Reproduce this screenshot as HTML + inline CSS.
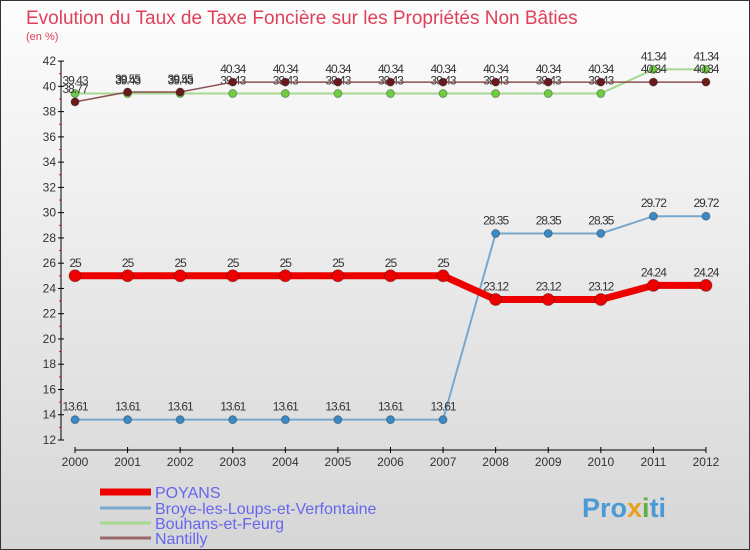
<!DOCTYPE html>
<html><head><meta charset="utf-8"><style>
body{margin:0}
svg{display:block;font-family:"Liberation Sans",sans-serif}
</style></head><body>
<svg id="c" width="750" height="550" xmlns="http://www.w3.org/2000/svg">
<defs><linearGradient id="bg" x1="0" y1="0" x2="0" y2="1"><stop offset="0" stop-color="#fdfdfd"/><stop offset="1" stop-color="#d6d6d6"/></linearGradient></defs>
<rect x="0.5" y="0.5" width="749" height="549" fill="url(#bg)" stroke="#333"/>
<text x="26" y="24" font-size="19" fill="#e0405a">Evolution du Taux de Taxe Foncière sur les Propriétés Non Bâties</text>
<text x="26" y="40" font-size="11" fill="#e0405a">(en %)</text>
<g id="axes"></g><g id="series"></g>
<g>
<line x1="100" y1="492" x2="151" y2="492" stroke="#e00" stroke-width="7"/>
<text x="155" y="498" font-size="16" fill="#6666ee">POYANS</text>
<line x1="100" y1="508" x2="151" y2="508" stroke="#7aa8cc" stroke-width="3"/>
<text x="155" y="514" font-size="16" fill="#6666ee">Broye-les-Loups-et-Verfontaine</text>
<line x1="100" y1="523" x2="151" y2="523" stroke="#a8d890" stroke-width="3"/>
<text x="155" y="529" font-size="16" fill="#6666ee">Bouhans-et-Feurg</text>
<line x1="100" y1="538" x2="151" y2="538" stroke="#9a6a6a" stroke-width="3"/>
<text x="155" y="544" font-size="16" fill="#6666ee">Nantilly</text>
</g>
<g><text x="582" y="517" font-size="27" font-weight="bold" fill="#4a9ad8">Pro<tspan fill="#e8a020">x</tspan><tspan fill="#60b040">i</tspan>ti</text></g>
</svg>
<script>
const years=[2000,2001,2002,2003,2004,2005,2006,2007,2008,2009,2010,2011,2012];
const poyans=[25,25,25,25,25,25,25,25,23.12,23.12,23.12,24.24,24.24];
const broye=[13.61,13.61,13.61,13.61,13.61,13.61,13.61,13.61,28.35,28.35,28.35,29.72,29.72];
const bouhans=[39.43,39.43,39.43,39.43,39.43,39.43,39.43,39.43,39.43,39.43,39.43,41.34,41.34];
const nantilly=[38.77,39.55,39.55,40.34,40.34,40.34,40.34,40.34,40.34,40.34,40.34,40.34,40.34];
const yTicks=[12,14,16,18,20,22,24,26,28,30,32,34,36,38,40,42];
const NS="http://www.w3.org/2000/svg";
const X=i=>75+i*52.58, Y=v=>440-(v-12)*12.63;
function mk(tag,a,p){const e=document.createElementNS(NS,tag);for(const k in a)e.setAttribute(k,a[k]);p.appendChild(e);return e;}
const ax=document.getElementById('axes');
let e=mk('line',{x1:61,y1:Y(42),x2:61,y2:Y(12),stroke:'#000'},ax);


e=mk('line',{x1:75,y1:450,x2:X(12),y2:450,stroke:'#000'},ax);


yTicks.forEach((v,k)=>{
 mk('line',{x1:58,y1:Y(v),x2:64,y2:Y(v),stroke:'#000'},ax);
 if(k<yTicks.length-1) mk('line',{x1:59,y1:Y(v+1),x2:61,y2:Y(v+1),stroke:'#e00'},ax);
 const t=mk('text',{x:56,y:Y(v)+4,'font-size':12,'text-anchor':'end',fill:'#333'},ax);t.textContent=v;
 
 
});
years.forEach((y,i)=>{
 mk('line',{x1:X(i),y1:447,x2:X(i),y2:453,stroke:'#000'},ax);
 const t=mk('text',{x:X(i),y:466,'font-size':12,'text-anchor':'middle',fill:'#333'},ax);t.textContent=y;
 
 
});
const sg=document.getElementById('series');
function series(d,name,col,w,r,dot){
 const g=mk('g',{},sg);
 
 
 mk('polyline',{points:d.map((v,i)=>X(i)+','+Y(v)).join(' '),fill:'none',stroke:col,'stroke-width':w,'stroke-linejoin':'round'},g);
 d.forEach((v,i)=>{
  const c=mk('circle',{cx:X(i),cy:Y(v),r:r,fill:dot,stroke:'rgba(0,0,0,0.3)'},g);
  
  
  const t=mk('text',{x:X(i),y:Y(v)-9,'font-size':12,'text-anchor':'middle',fill:'#333','letter-spacing':'-1'},g);t.textContent=v;
  
  
 });
}
series(broye,'broye','#7aa8cc',2,4,'#3a8ac8');
series(bouhans,'bouhans','#a8d890',2,4,'#70cc40');
series(nantilly,'nantilly','#8a5050',1.5,4,'#6a1a1a');
series(poyans,'poyans','#ee0000',7,6,'#ee0000');
</script>
</body></html>
